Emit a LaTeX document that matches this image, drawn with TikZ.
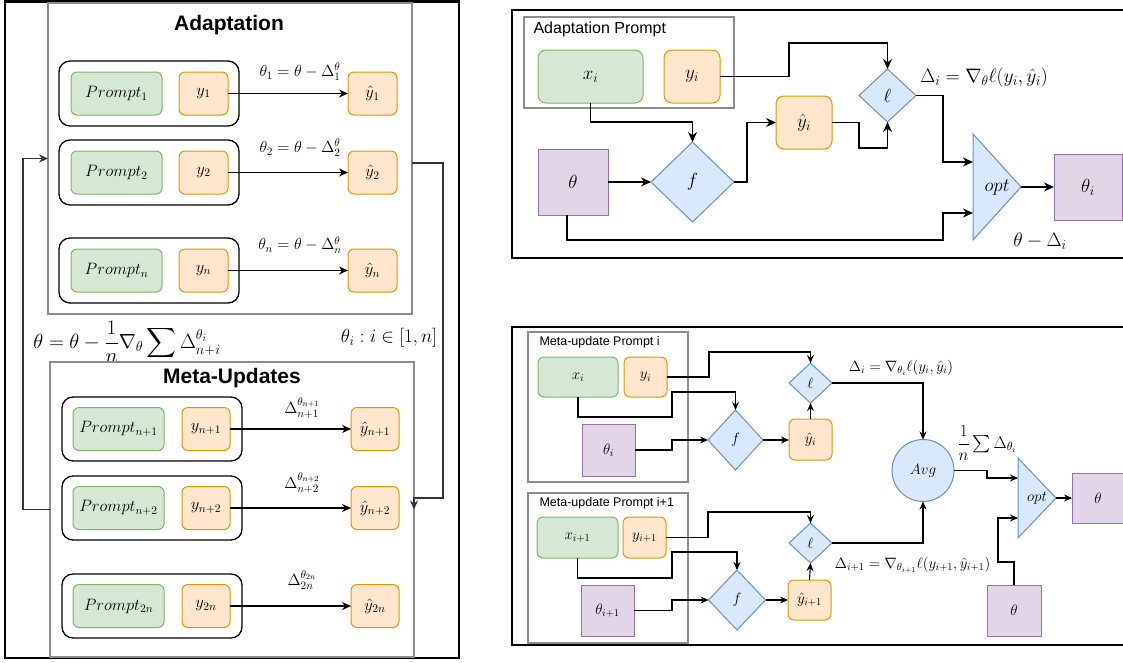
\RequirePackage{fix-cm}
\documentclass[tikz,border=0pt]{standalone}
\usepackage{amsmath}
\usepackage{fontspec}
\newfontfamily\arialfont{Liberation Sans}
\usetikzlibrary{shapes.geometric,arrows.meta}
\pgfdeclarelayer{background}
\pgfsetlayers{background,main}
\definecolor{gfill}{HTML}{D5E8D4}\definecolor{gline}{HTML}{82B366}
\definecolor{ofill}{HTML}{FFE6CC}\definecolor{oline}{HTML}{D79B00}
\definecolor{pfill}{HTML}{E1D5E7}\definecolor{pline}{HTML}{9673A6}
\definecolor{bfill}{HTML}{DAE8FC}\definecolor{bline}{HTML}{6C8EBF}
\definecolor{grayline}{HTML}{8C8C8C}
\definecolor{dline}{HTML}{333333}
\tikzset{
 base/.style={inner sep=0pt, outer sep=0pt, line width=1pt},
 wh/.style 2 args={minimum width=#1pt, minimum height=#2pt},
 gbox/.style={base, draw=gline, fill=gfill, rounded corners=6pt},
 obox/.style={base, draw=oline, fill=ofill, rounded corners=6pt},
 pbox/.style={base, draw=pline, fill=pfill},
 bdia/.style={base, diamond, draw=bline, fill=bfill},
 bcirc/.style={base, circle, draw=bline, fill=bfill},
 tri/.style={draw=bline, fill=bfill, line width=1pt},
 grp/.style={base, draw=black, line width=1.3pt, rounded corners=11pt},
 cont/.style={base, draw=grayline, line width=1.3pt},
 frame/.style={draw=black, line width=2.6pt},
 connL/.style={line width=1.2pt, -{Stealth[length=9pt,width=8pt]}},
 connR/.style={line width=1.3pt, -{Stealth[length=10pt,width=9pt]}},
 connB/.style={line width=1.1pt, -{Stealth[length=8pt,width=7pt]}},
 lf/.style={font=\fontsize{16.5}{19}\selectfont},
 ll/.style={font=\fontsize{16}{19}\selectfont},
 ff/.style={font=\fontsize{20.5}{24}\selectfont},
 fr/.style={font=\fontsize{19}{22}\selectfont},
 titlefont/.style={font=\arialfont\bfseries\fontsize{21}{24}\selectfont},
 tfont/.style={font=\arialfont\fontsize{16}{18}\selectfont},
 btfont/.style={font=\arialfont\fontsize{12.5}{15}\selectfont},
 rf/.style={font=\fontsize{19}{22}\selectfont},
 rl/.style={font=\fontsize{19.5}{22}\selectfont},
 bf/.style={font=\fontsize{15}{18}\selectfont},
 bl/.style={font=\fontsize{15}{18}\selectfont},
 bs/.style={font=\fontsize{17}{20}\selectfont},
}
\begin{document}
\begin{tikzpicture}[x=1pt,y=-1pt]
\useasboundingbox (0,0) rectangle (1123,662);
\clip (0,0) rectangle (1123,662);

% ================= LEFT PANEL =================
\draw[frame] (5,1.5) rectangle (459,658);
\node[cont, wh={364}{311}] (adapt) at (230,158.5) {};
\node[titlefont] (adaptT) at (229,25) {Adaptation};

\node[grp, wh={180}{65}] (g1) at (149,93.5) {};
\node[gbox, wh={91}{43}, lf] (p1) at (116.5,93.5) {$Prompt_1$};
\node[obox, wh={49}{43}, lf] (y1) at (203.5,93.5) {$y_1$};
\node[obox, wh={49}{43}, lf] (h1) at (372.5,93.5) {$\hat{y}_1$};
\draw[connL] (y1) -- (h1);
\node[ll] (t1) at (300,72) {$\theta_1 = \theta - \Delta^{\theta}_{1}$};

\node[grp, wh={180}{65}] (g2) at (149,172.5) {};
\node[gbox, wh={91}{43}, lf] (p2) at (116.5,172.5) {$Prompt_2$};
\node[obox, wh={49}{43}, lf] (y2) at (203.5,172.5) {$y_2$};
\node[obox, wh={49}{43}, lf] (h2) at (372.5,172.5) {$\hat{y}_2$};
\draw[connL] (y2) -- (h2);
\node[ll] (t2) at (300,148) {$\theta_2 = \theta - \Delta^{\theta}_{2}$};

\node[grp, wh={180}{65}] (g3) at (149,270.5) {};
\node[gbox, wh={91}{43}, lf] (p3) at (116.5,270.5) {$Prompt_n$};
\node[obox, wh={49}{43}, lf] (y3) at (203.5,270.5) {$y_n$};
\node[obox, wh={49}{43}, lf] (h3) at (372.5,270.5) {$\hat{y}_n$};
\draw[connL] (y3) -- (h3);
\node[ll] (t3) at (300,245) {$\theta_n = \theta - \Delta^{\theta}_{n}$};

\node[ff] (upd) at (127,342) {$\displaystyle \theta = \theta - \frac{1}{n}\nabla_{\theta}\sum\Delta^{\theta_i}_{n+i}$};
\node[fr] (rng) at (389,338) {$\theta_i : i \in [1,n]$};

\node[cont, wh={364}{295}] (meta) at (232,509.5) {};
\node[titlefont] (metaT) at (232,378) {Meta-Updates};

\node[grp, wh={180}{64}] (g4) at (152,429) {};
\node[gbox, wh={91}{43}, lf] (p4) at (118.5,429) {$Prompt_{n+1}$};
\node[obox, wh={48}{43}, lf] (y4) at (206,429) {$y_{n+1}$};
\node[obox, wh={48}{43}, lf] (h4) at (375,429) {$\hat{y}_{n+1}$};
\draw[connL] (y4) -- (h4);
\node[ll] (t4) at (302,408) {$\Delta^{\theta_{n+1}}_{n+1}$};

\node[grp, wh={180}{64}] (g5) at (152,508) {};
\node[gbox, wh={91}{43}, lf] (p5) at (118.5,508) {$Prompt_{n+2}$};
\node[obox, wh={48}{43}, lf] (y5) at (206,508) {$y_{n+2}$};
\node[obox, wh={48}{43}, lf] (h5) at (375,508) {$\hat{y}_{n+2}$};
\draw[connL] (y5) -- (h5);
\node[ll] (t5) at (302,483) {$\Delta^{\theta_{n+2}}_{n+2}$};

\node[grp, wh={180}{64}] (g6) at (152,606) {};
\node[gbox, wh={91}{43}, lf] (p6) at (118.5,606) {$Prompt_{2n}$};
\node[obox, wh={48}{43}, lf] (y6) at (206,606) {$y_{2n}$};
\node[obox, wh={48}{43}, lf] (h6) at (375,606) {$\hat{y}_{2n}$};
\draw[connL] (y6) -- (h6);
\node[ll] (t6) at (302,580) {$\Delta^{\theta_{2n}}_{2n}$};

\draw[connL, draw=dline] (meta.west) -- ++(-27,0) |- (adapt.west);
\draw[connL, draw=dline] ([yshift=-4.5pt]adapt.east) -| (443,498) -| (meta.east);

% ================= RIGHT TOP PANEL =================
\draw[frame] (512,10) rectangle (1160,258);
\node[cont, wh={210}{91}] (ap) at (629,62.5) {};
\node[tfont, anchor=west] (apT) at (530,29) {Adaptation Prompt};
\node[gbox, rounded corners=8pt, wh={105}{53}, rf] (xA) at (590.5,76.5) {$x_i$};
\node[obox, rounded corners=8pt, wh={56}{53}, rf] (yA) at (692,76.5) {$y_i$};
\node[pbox, wh={70}{66}, rf] (thA) at (573,182) {$\theta$};
\node[bdia, wh={83}{80}, rf] (fA) at (692.5,182) {$f$};
\node[obox, rounded corners=8pt, wh={56}{53}, rf] (yhA) at (804,122.5) {$\hat{y}_i$};
\node[bdia, wh={57}{53}, rf] (lA) at (887.5,95.5) {$\ell$};
\node[base, wh={48}{106}, rf] (optA) at (997,187) {$opt$};
\node[pbox, wh={68}{66}, rf] (thiA) at (1088,187) {$\theta_i$};
\node[rl] (dA) at (984,78) {$\Delta_i = \nabla_{\theta}\ell(y_i,\hat{y}_i)$};
\node[rl] (tdA) at (1040,241) {$\theta - \Delta_i$};

\draw[connR] (xA.south) -- ++(0,19) -| (fA.north);
\draw[connR] (thA.east) -- (fA.west);
\draw[connR] (fA.east) -- ++(13,0) |- (yhA.west);
\draw[connR] (yA.east) -| (789,43) -| (lA.north);
\draw[connR] (yhA.east) -| (859,148) -| (lA.south);
\draw[connR] (lA.east) -| (943,162) -- ([yshift=25pt]optA.west);
\draw[connR] ([xshift=-6pt]thA.south) |- (943,240) |- ([yshift=-26pt]optA.west);
\draw[connR] (optA.east) -- (thiA.west);

% ================= RIGHT BOTTOM PANEL =================
\draw[frame] (512,327) rectangle (1160,645);
\node[cont, wh={160}{150}] (mpi) at (608,407) {};
\node[btfont, anchor=west] (mpiT) at (536,342) {Meta-update Prompt i};
\node[gbox, wh={80}{40}, bf] (xB) at (578,377) {$x_i$};
\node[obox, wh={43}{40}, bf] (yB) at (645.5,377) {$y_i$};
\node[pbox, wh={53}{52}, bf] (thB) at (608.5,450) {$\theta_i$};
\node[bdia, wh={55}{60}, bf] (fB) at (735.5,440) {$f$};
\node[obox, wh={43}{41}, bf] (yhB) at (810.5,439.5) {$\hat{y}_i$};
\node[bdia, wh={43}{40}, bf] (lB) at (810.5,383) {$\ell$};

\node[cont, wh={160}{150}] (mpj) at (608,568) {};
\node[btfont, anchor=west] (mpjT) at (536,503) {Meta-update Prompt i+1};
\node[gbox, wh={81}{41}, bf] (xC) at (577.5,537.5) {$x_{i+1}$};
\node[obox, wh={43}{41}, bf] (yC) at (644.5,537.5) {$y_{i+1}$};
\node[pbox, wh={53}{51}, bf] (thC) at (607.5,610.5) {$\theta_{i+1}$};
\node[bdia, wh={57}{60}, bf] (fC) at (737,600) {$f$};
\node[obox, wh={43}{40}, bf] (yhC) at (809.5,600) {$\hat{y}_{i+1}$};
\node[bdia, wh={43}{40}, bf] (lC) at (810.5,543) {$\ell$};

\node[bcirc, minimum size=62pt, bf] (avg) at (923,470.5) {$Avg$};
\node[base, wh={38}{80}, bf] (optB) at (1037,498) {$opt$};
\node[pbox, wh={52}{50}, bf] (thE) at (1098,498) {$\theta$};
\node[pbox, wh={54}{51}, bf] (thD) at (1014,610.5) {$\theta$};

\node[bl] (dB) at (901,368) {$\Delta_i = \nabla_{\theta_i}\ell(y_i,\hat{y}_i)$};
\node[bl] (dC) at (912.5,565) {$\Delta_{i+1} = \nabla_{\theta_{i+1}}\ell(y_{i+1},\hat{y}_{i+1})$};
\node[bs] (avgL) at (987,443) {$\dfrac{1}{n}\sum\Delta_{\theta_i}$};

\draw[connB] (yB.east) -| (709,352) -| (lB.north);
\draw[connB] (xB.south) |- (672,417) -- (672,392) -| (fB.north);
\draw[connB] (thB.east) -- ++(37,0) |- (fB.west);
\draw[connB] (fB.east) -- (fB.east -| yhB.west);
\draw[connB] (yhB.north) -- (lB.south);
\draw[connB] (lB.east) -| (avg.north);

\draw[connB] (yC.east) -| (708,512) -| (lC.north);
\draw[connB] (xC.south) |- (672,578) -- (672,552) -| (fC.north);
\draw[connB] (thC.east) -- ++(38,0) |- (fC.west);
\draw[connB] (fC.east) -- (yhC.west);
\draw[connB] (yhC.north) -- (lC.south);
\draw[connB] (lC.east) -| (avg.south);

\draw[connB] (avg.east) -| (987,478) -- ([yshift=20pt]optB.west);
\draw[connB] (thD.north) |- (998,562) |- ([yshift=-20pt]optB.west);
\draw[connB] (optB.east) -- (thE.west);

\begin{pgfonlayer}{background}
\draw[tri] (optA.north west) -- (optA.east) -- (optA.south west) -- cycle;
\draw[tri] (optB.north west) -- (optB.east) -- (optB.south west) -- cycle;
\end{pgfonlayer}
\end{tikzpicture}
\end{document}
